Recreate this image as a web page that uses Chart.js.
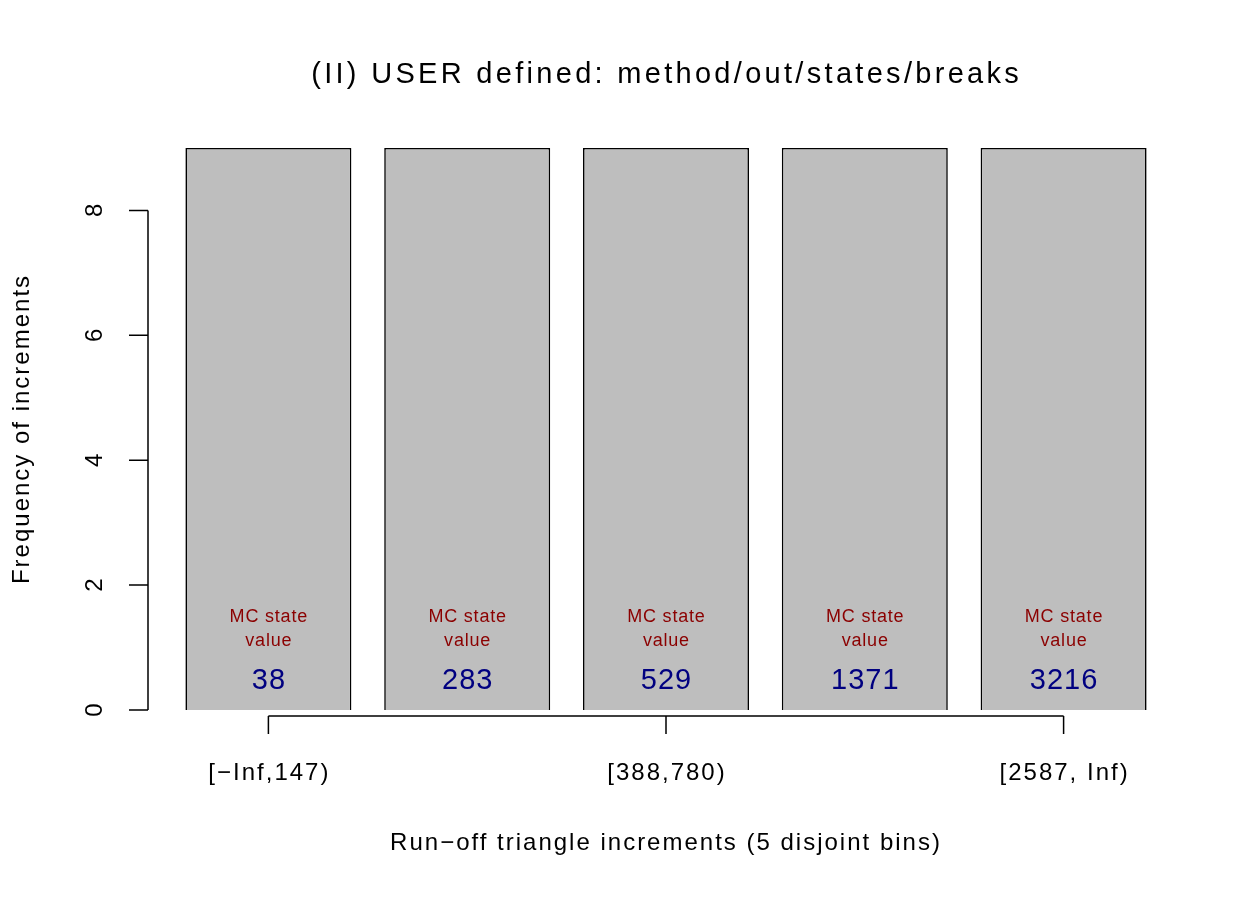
<!DOCTYPE html>
<html><head><meta charset="utf-8">
<script src="https://cdn.jsdelivr.net/npm/chart.js@4"></script>
<style>html,body{margin:0;padding:0;background:#fff}</style>
</head><body>
<canvas id="c" width="1260" height="900"></canvas>
<script>
const categories = ["1","2","3","4","5"];
const frequencies = [9,9,9,9,9];
const mcStateValues = ["38","283","529","1371","3216"];
const xTickIndices = [0,2,4];
const xTickLabels = ["[\u2212Inf,147)","[388,780)","[2587, Inf)"];
const yTicks = [0,2,4,6,8];
const titleText = "(II) USER defined: method/out/states/breaks";
const xTitle = "Run\u2212off triangle increments (5 disjoint bins)";
const yTitle = "Frequency of increments";
const F = "'Liberation Sans', Arial, Helvetica, sans-serif";

function txt(ctx, s, x, y, size, sp){
  ctx.font = size+"px "+F;
  ctx.letterSpacing = sp+"px";
  ctx.fillText(s, x + sp/2, y);
}

const decor = {
  id:'decor',
  afterDatasetsDraw(chart){
    const ctx = chart.ctx, x = chart.scales.x, y = chart.scales.y;
    ctx.save();
    ctx.strokeStyle='#000'; ctx.fillStyle='#000'; ctx.lineWidth=1.5;
    const ax = 148;
    ctx.beginPath();
    ctx.moveTo(ax, y.getPixelForValue(yTicks[0]));
    ctx.lineTo(ax, y.getPixelForValue(yTicks[yTicks.length-1]));
    yTicks.forEach(t=>{const p=y.getPixelForValue(t);ctx.moveTo(ax,p);ctx.lineTo(ax-19,p);});
    ctx.stroke();
    ctx.textAlign='center'; ctx.textBaseline='middle';
    yTicks.forEach(t=>{const p=y.getPixelForValue(t);
      ctx.save();ctx.translate(95,p);ctx.rotate(-Math.PI/2);txt(ctx,String(t),0,0,24,2);ctx.restore();});
    const ay = 716;
    ctx.beginPath();
    ctx.moveTo(x.getPixelForValue(xTickIndices[0]), ay);
    ctx.lineTo(x.getPixelForValue(xTickIndices[xTickIndices.length-1]), ay);
    xTickIndices.forEach(i=>{const p=x.getPixelForValue(i);ctx.moveTo(p,ay);ctx.lineTo(p,734);});
    ctx.stroke();
    xTickIndices.forEach((i,k)=>txt(ctx,xTickLabels[k], x.getPixelForValue(i), 773, 24, 2));
    txt(ctx, xTitle, 665, 843, 24, 2);
    ctx.save();ctx.translate(22,430);ctx.rotate(-Math.PI/2);txt(ctx,yTitle,0,0,24,2);ctx.restore();
    txt(ctx, titleText, 665, 75, 29, 3.3);
    categories.forEach((c,i)=>{
      const p = x.getPixelForValue(i);
      ctx.fillStyle='#8b0000';
      txt(ctx,"MC state", p, 617, 18, 0.8);
      txt(ctx,"value", p, 641, 18, 0.8);
      ctx.fillStyle='#000080';
      txt(ctx, mcStateValues[i], p, 681, 29, 1);
    });
    ctx.restore();
  }
};

new Chart(document.getElementById('c'), {
  type:'bar',
  data:{labels:categories, datasets:[{data:frequencies, backgroundColor:'#bebebe', borderColor:'#000', borderWidth:1.6, barPercentage:0.835, categoryPercentage:1}]},
  options:{
    responsive:false, animation:false, devicePixelRatio:1,
    layout:{padding:{left:169,right:97,top:148,bottom:190}},
    plugins:{legend:{display:false},tooltip:{enabled:false},title:{display:false}},
    scales:{x:{display:false},y:{display:false,min:0,max:9}}
  },
  plugins:[decor]
});
</script>
</body></html>
